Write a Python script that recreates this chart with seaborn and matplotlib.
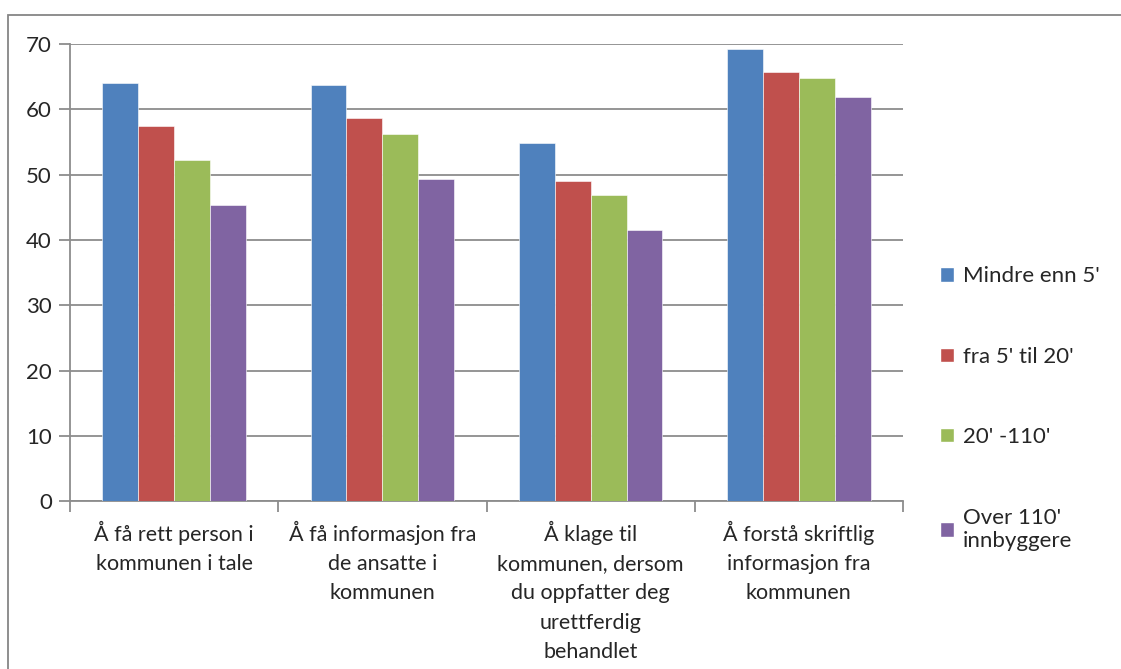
import pandas as pd
import matplotlib
matplotlib.use("Agg")
import matplotlib.pyplot as plt
import seaborn as sns
from matplotlib.patches import Rectangle

# categories and series values
categories = ["Å få rett person i\nkommunen i tale",
              "Å få informasjon fra\nde ansatte i\nkommunen",
              "Å klage til\nkommunen, dersom\ndu oppfatter deg\nurettferdig\nbehandlet",
              "Å forstå skriftlig\ninformasjon fra\nkommunen"]
series = ["Mindre enn 5'", "fra 5' til 20'", "20' -110'", "Over 110'\ninnbyggere"]
mindre_enn_5 = [64.1, 63.7, 54.9, 69.3]
fra_5_til_20 = [57.4, 58.7, 49.1, 65.8]
fra_20_til_110 = [52.3, 56.3, 46.9, 64.8]
over_110 = [45.3, 49.4, 41.5, 61.9]
colors = ["#4F81BD", "#C0504D", "#9BBB59", "#8064A2"]

rows = []
for s, vals in zip(series, [mindre_enn_5, fra_5_til_20, fra_20_til_110, over_110]):
    for c, v in zip(categories, vals):
        rows.append({"kategori": c, "gruppe": s, "verdi": v})
df = pd.DataFrame(rows)

sns.set_style("white")
plt.rcParams['font.family'] = ['Lato', 'DejaVu Sans']

fig = plt.figure(figsize=(11.21, 6.69), dpi=100)
ax = fig.add_axes([0.0625, 0.251, 0.743, 0.683])

sns.barplot(data=df, x="kategori", y="verdi", hue="gruppe", order=categories,
            hue_order=series, palette=colors, width=0.69, saturation=1,
            edgecolor="white", linewidth=0.4, ax=ax, zorder=3)

ax.set_ylim(0, 70)
ax.set_xlim(-0.5, 3.5)
ax.set_yticks(range(0, 71, 10))
ax.yaxis.grid(True, color="#8c8c8c", linewidth=1.3)
ax.set_axisbelow(True)
ax.set_xlabel("")
ax.set_ylabel("")

for side in ["top", "right"]:
    ax.spines[side].set_visible(False)
for side in ["left", "bottom"]:
    ax.spines[side].set_color("#8c8c8c")
    ax.spines[side].set_linewidth(1.3)

# category labels drawn under the groups, ticks at group boundaries
ax.set_xticks([-0.5, 0.5, 1.5, 2.5, 3.5])
ax.set_xticklabels([])
ax.set_xticks(range(4), minor=True)
ax.set_xticklabels(categories, minor=True, fontsize=15.5, va="top", ha="center")
for t in ax.xaxis.get_minor_ticks():
    t.label1.set_linespacing(1.58)
ax.tick_params(axis="x", which="major", length=8, width=1.3, color="#8c8c8c",
               direction="out", bottom=True)
ax.tick_params(axis="x", which="minor", length=0, pad=14)
ax.tick_params(axis="y", length=8, width=1.3, color="#8c8c8c", direction="out",
               left=True, labelsize=16, pad=5)

ax.legend_.remove()
handles = [Rectangle((0, 0), 1, 1, facecolor=c) for c in colors]
fig.legend(handles, series, loc="upper left", bbox_to_anchor=(0.821, 0.632),
           frameon=False, fontsize=16, handlelength=0.62, handleheight=0.62,
           handletextpad=0.4, labelspacing=2.72)

# outer chart border
fig.patches.append(Rectangle((0.0075, -0.05), 1.1, 0.028 + 1.0, transform=fig.transFigure,
                             fill=False, edgecolor="#868686", linewidth=1.3))

fig.savefig("out.png", dpi=100)
